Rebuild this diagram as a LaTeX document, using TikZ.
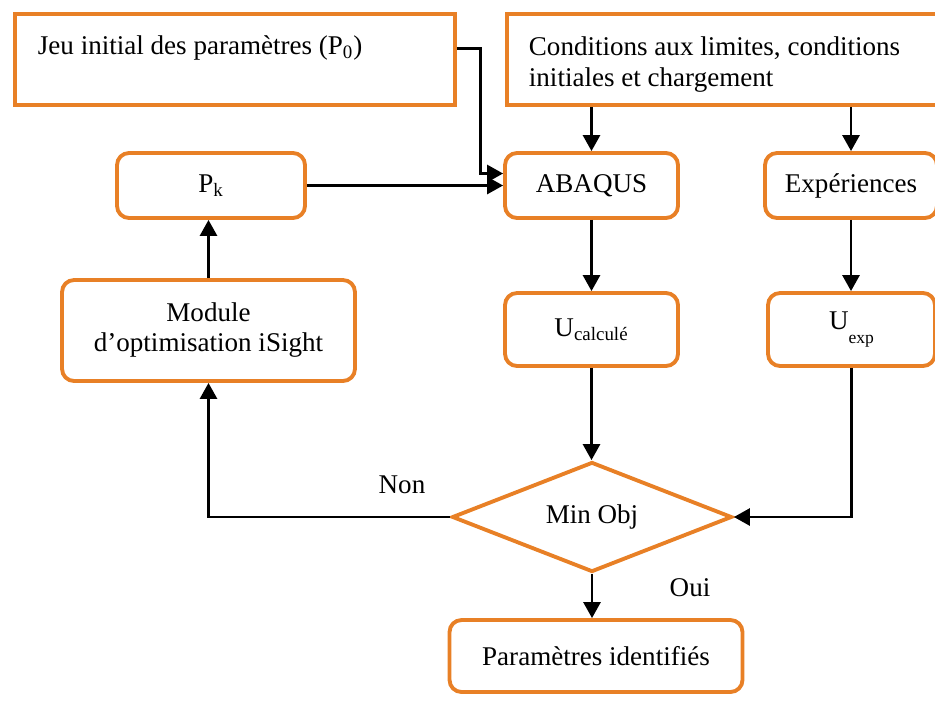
\documentclass[tikz,border=0pt]{standalone}
\usepackage{fontspec}
\setmainfont{Liberation Serif}
\usepackage{tikz}
\usetikzlibrary{arrows.meta, shapes.geometric, calc}
\definecolor{boxorange}{RGB}{232,128,38}

\begin{document}
\begin{tikzpicture}[x=0.02cm, y=-0.02cm,
    font=\fontsize{15.4}{17.1}\selectfont,
    box/.style={draw=boxorange, line width=2.2pt, rounded corners=0.24cm, inner sep=0pt, align=center},
    flat/.style={draw=boxorange, line width=2.2pt, inner sep=0pt},
    test/.style={draw=boxorange, line width=2.2pt, diamond, inner sep=0pt, aspect=2.55},
    arr/.style={line width=1.6pt, -{Triangle[length=0.32cm, width=0.34cm]}}]
      \useasboundingbox (0,0) rectangle (935,700);
      \clip (0,0) rectangle (935,700);
      \node[flat, anchor=north west, inner xsep=0.46cm, text width=7.88cm,
            text height=0.82cm, text depth=1.0cm, align=flush left] (jeu) at (13,12)
            {Jeu initial des paramètres (P\textsubscript{0})};
      \node[flat, anchor=north west, inner xsep=0.44cm, text width=8.0cm,
            minimum height=1.82cm, align=flush left] (cond) at (505,12)
            {\rule{0pt}{0.58cm}Conditions aux limites, conditions\\initiales et chargement};
      \node[box, minimum width=3.76cm, minimum height=1.3cm] (pk) at (211,185.5) {P\textsubscript{k}};
      \node[box, minimum width=3.46cm, minimum height=1.3cm] (abaqus) at (591.5,185.5) {ABAQUS};
      \node[box, minimum width=3.44cm, minimum height=1.3cm] (exper) at (851,185.5) {Expériences};
      \node[box, minimum width=5.86cm, minimum height=2.02cm] (module) at (208.5,330.5)
            {Module\\d’optimisation iSight};
      \node[box, minimum width=3.46cm, minimum height=1.46cm] (ucalc) at (591.5,329.5)
            {U\textsubscript{calculé}};
      \node[box, minimum width=3.34cm, minimum height=1.46cm] (uexp) at (851.5,329.5)
            {U\raisebox{-0.5em}{\fontsize{10}{10}\selectfont exp}};
      \node[test, minimum width=5.6cm, minimum height=2.2cm] (minobj) at (592,517) {Min Obj};
      \node[box, minimum width=5.86cm, minimum height=1.44cm] (param) at (596,656) {Paramètres identifiés};
      \node (non) at (402,485) {Non};
      \node (oui) at (690,588) {Oui};
      \coordinate (jout) at ($(jeu.east)+(0,-11)$);
      \coordinate (abin) at ($(abaqus.west)+(0,-12)$);
      \draw[arr] (jout) -- ++(24,0) |- (abin);
      \draw[arr] (pk.east) -- (pk.east -| abaqus.west);
      \draw[arr] (cond.south -| abaqus.north) -- (abaqus.north);
      \draw[arr] (cond.south -| exper.north) -- (exper.north);
      \draw[arr] (abaqus.south) -- (ucalc.north);
      \draw[arr] (exper.south) -- (exper.south |- uexp.north);
      \draw[arr] (ucalc.south) -- (ucalc.south |- minobj.north);
      \draw[arr] (uexp.south) |- (minobj.east);
      \draw[arr] (minobj.west) -| (module.south);
      \draw[arr] (module.north) -- (module.north |- pk.south);
      \draw[arr] (minobj.south) -- (minobj.south |- param.north);
    \end{tikzpicture}
\end{document}
